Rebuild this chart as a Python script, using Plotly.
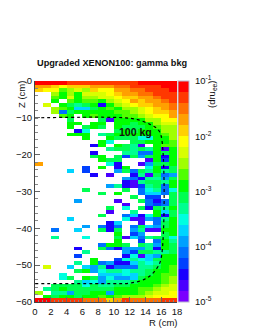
import plotly.graph_objects as go

N = None
# colour band (0..19, 0.2 decade each, starting at 1e-5) per row, column = R bin (cm)
z_levels = [
 [19,19,19,19,18,18,18,18,18,18,18,18,18,19,19,19,19,19],
 [16,16,15,14,15,15,15,16,16,16,17,17,18,18,18,18,19,19],
 [15,14,14,11,12,13,12,15,14,14,16,16,17,17,18,18,18,19],
 [N,N,12,10,12,10,13,13,13,14,15,16,16,17,17,18,18,18],
 [N,N,11,10,13,10,12,12,13,13,14,15,15,16,16,17,18,18],
 [N,N,10,N,11,10,11,11,10,12,13,14,16,15,16,16,17,18],
 [N,13,N,10,9,8,9,10,2,10,12,13,14,15,15,16,16,17],
 [N,N,12,11,10,6,6,9,10,11,10,12,12,13,14,15,16,17],
 [N,N,12,4,9,10,10,10,10,10,11,11,12,13,14,15,15,16],
 [N,N,N,11,10,N,10,11,10,10,10,11,11,12,13,14,14,16],
 [N,N,N,N,9,N,N,N,9,1,10,10,10,10,12,12,14,14],
 [N,N,N,N,10,10,N,10,10,N,10,10,9,10,10,12,13,13],
 [N,N,N,N,10,N,9,10,9,N,10,9,9,9,10,11,12,12],
 [N,N,N,N,N,2,7,N,N,N,9,10,9,10,10,10,12,12],
 [N,N,N,N,10,10,10,N,8,9,10,10,10,10,10,10,11,12],
 [N,N,N,N,N,N,10,N,N,10,9,9,9,7,7,10,10,12],
 [N,N,N,N,N,N,N,N,10,7,N,N,9,9,10,10,10,11],
 [N,N,N,N,N,N,N,2,10,N,10,9,8,1,N,10,11,11],
 [N,N,N,N,N,N,N,N,N,8,9,9,8,9,8,10,1,10],
 [N,N,N,N,N,N,N,2,N,N,N,8,8,4,4,10,9,10],
 [N,N,N,N,N,N,N,9,10,N,9,3,9,5,9,10,2,10],
 [N,N,N,N,N,N,N,N,10,9,9,N,N,N,1,10,3,10],
 [16,N,N,N,N,N,N,N,N,7,2,N,N,1,5,9,9,10],
 [N,N,N,N,N,N,3,N,10,N,2,10,N,N,7,10,2,9],
 [N,N,N,N,6,N,3,N,N,N,5,9,4,9,8,10,8,9],
 [N,N,N,N,N,N,N,2,N,1,N,N,2,8,1,9,4,5],
 [N,N,N,N,N,N,N,N,N,N,N,5,4,2,8,8,5,9],
 [N,N,N,N,N,N,N,N,N,N,N,2,1,8,9,9,8,10],
 [N,N,N,N,N,N,N,N,N,5,8,2,1,3,8,9,4,10],
 [N,N,N,N,N,N,9,N,N,N,N,9,N,4,7,8,4,7],
 [N,N,N,N,N,N,N,N,9,N,10,N,N,4,6,6,4,9],
 [N,N,N,N,N,N,N,N,N,N,N,N,9,N,3,3,N,9],
 [N,N,N,N,N,5,N,N,N,N,1,N,N,9,4,2,4,9],
 [N,N,N,N,N,N,N,N,N,N,N,1,N,N,4,3,4,9],
 [N,N,N,N,N,N,N,N,N,9,N,7,N,9,2,9,8,10],
 [N,N,N,N,N,N,N,N,N,1,N,N,8,N,N,10,6,9],
 [N,N,N,N,N,N,N,N,9,N,N,4,6,2,7,10,2,9],
 [N,N,N,N,6,N,N,N,N,N,N,7,1,1,5,4,8,10],
 [N,N,N,N,N,N,N,N,N,2,6,N,N,1,N,4,9,10],
 [N,N,N,N,N,N,5,N,4,2,4,N,4,9,6,5,9,10],
 [N,N,4,N,N,6,N,N,9,2,9,N,5,8,1,1,10,10],
 [N,N,N,N,N,N,N,N,N,N,10,N,3,5,N,N,9,10],
 [N,N,8,N,N,N,7,N,N,N,9,1,6,4,8,9,9,7],
 [N,N,N,N,N,N,N,N,N,N,10,N,N,3,N,4,10,8],
 [N,N,N,N,N,N,N,N,4,10,10,9,N,9,8,5,10,9],
 [N,N,N,N,N,2,N,N,9,4,2,5,5,5,8,2,10,9],
 [N,N,N,N,N,N,8,N,N,N,N,5,3,9,9,8,8,9],
 [N,N,N,N,N,3,N,N,N,N,N,2,7,1,6,5,10,10],
 [N,N,N,N,N,N,N,10,N,N,3,7,8,7,6,9,10,10],
 [N,N,N,N,N,8,N,10,4,5,2,2,6,8,7,8,10,10],
 [N,13,N,N,6,N,6,5,8,2,4,4,4,8,8,9,10,11],
 [N,N,N,N,N,9,10,5,7,8,8,7,8,8,9,10,10,11],
 [N,N,N,7,N,N,N,N,6,6,6,7,6,8,9,10,11,11],
 [N,N,N,7,9,N,10,9,5,7,5,5,6,9,10,10,11,12],
 [N,N,N,N,N,8,6,7,5,8,8,8,9,10,10,10,11,12],
 [N,N,9,9,9,9,7,9,8,8,9,9,10,10,10,11,12,13],
 [N,8,9,10,9,9,9,9,9,9,10,10,10,11,11,12,13,13],
 [12,N,8,8,5,9,9,10,10,5,10,10,10,11,12,13,13,14],
 [N,10,9,10,10,9,10,10,11,10,11,12,12,12,13,14,14,14],
 [19,19,18,18,18,18,17,17,17,15,16,18,17,17,17,17,18,18],
]
r_centers = [i + 0.5 for i in range(18)]
z_centers = [-(i + 0.5) for i in range(60)]

band_colors = ["#7a00ff","#4a00ff","#1a00ff","#0040ff","#0070ff","#00a0ff","#00d4ff","#00ffe0",
               "#00ff90","#00ff50","#00ff00","#50ff00","#a0ff00","#d8ff00","#ffff00","#ffd000",
               "#ffa000","#ff7000","#ff3800","#ff0000"]

cut_r = [0,11.5,13,14.5,15.5,16,16,15.4,14.1,12,10,0]
cut_z = [-10,-10,-10.5,-11.7,-13,-15,-48,-51,-53.6,-54.9,-55,-55]

cbar_major = [1e-5,1e-4,1e-3,1e-2,1e-1]
cbar_labels = ["10<sup>-5</sup>","10<sup>-4</sup>","10<sup>-3</sup>","10<sup>-2</sup>","10<sup>-1</sup>"]
cbar_minor = [m * k for m in cbar_major[:-1] for k in range(2, 10)]
x_ticks = list(range(0,19,2))
y_major = list(range(0,-61,-10))

z_log = [[None if v is None else -5 + (v + 0.5) * 0.2 for v in row] for row in z_levels]
n = len(band_colors)
scale = []
for i, c in enumerate(band_colors):
    scale += [[i / n, c], [(i + 1) / n, c]]

FONT = "Liberation Sans"
PW = 220.0; PH = 221.0
def px(x): return (x - 35) / PW
def py(y): return (302 - y) / PH

fig = go.Figure()
fig.add_trace(go.Heatmap(x=r_centers, y=z_centers, z=z_log, zmin=-5, zmax=-1, colorscale=scale,
    hoverongaps=False, xaxis="x", yaxis="y",
    colorbar=dict(thicknessmode="pixels", thickness=11, lenmode="fraction", len=1, y=0, yanchor="bottom",
                  x=px(178), xanchor="left", xpad=0, ypad=0, xref="paper", yref="paper",
                  outlinecolor="#b8b8d0", outlinewidth=1, ticks="", showticklabels=False)))
fig.add_trace(go.Scatter(x=cut_r, y=cut_z, mode="lines", line=dict(color="black", width=1.2, dash="dot"),
                         line_shape="spline", showlegend=False))
fig.add_trace(go.Scatter(x=[None], y=[None], yaxis="y2", mode="markers", showlegend=False, hoverinfo="skip"))
fig.update_layout(width=255, height=330, autosize=False, margin=dict(l=35, r=0, t=81, b=28, pad=0),
    paper_bgcolor="white", plot_bgcolor="white", showlegend=False,
    font=dict(family=FONT, size=9.5, color="#111"),
    title=dict(text="<b>Upgraded XENON100: gamma bkg</b>", x=37/255, xanchor="left", y=1-63/330, yanchor="middle",
               font=dict(family=FONT, size=9.2, color="#111")),
    xaxis=dict(range=[0,18], domain=[0, px(177)], tickmode="array", tickvals=x_ticks, ticks="inside", ticklen=5, tickcolor="#666",
               showgrid=False, zeroline=False, showline=True, linecolor="#444", linewidth=1,
               minor=dict(dtick=0.5, ticks="inside", ticklen=2, tickcolor="#888"),
               tickfont=dict(size=9.5), ticklabelstandoff=1, automargin=False),
    yaxis=dict(range=[-60,0], tickmode="array", tickvals=y_major, ticks="inside", ticklen=5, tickcolor="#666",
               showgrid=False, zeroline=False, showline=True, linecolor="#444", linewidth=1,
               minor=dict(dtick=2, tick0=0, ticks="inside", ticklen=3, tickcolor="#888"),
               tickfont=dict(size=9.5), automargin=False),
    yaxis2=dict(type="log", range=[-5,-1], overlaying="y", anchor="free", position=px(189), side="right",
                tickmode="array", tickvals=cbar_major, ticktext=cbar_labels, ticks="inside", ticklen=5, tickcolor="#333",
                showgrid=False, zeroline=False, showline=False,
                minor=dict(tickmode="array", tickvals=cbar_minor, ticks="inside", ticklen=3, tickcolor="#333"),
                tickfont=dict(size=9.5), ticklabelstandoff=5, automargin=False),
    annotations=[
        dict(text="<b>100 kg</b>", x=px(135), y=py(132), xref="paper", yref="paper", showarrow=False, yanchor="middle", xanchor="center", font=dict(size=10.5, color="#111")),
        dict(text="R (cm)", x=px(163.5), y=py(322), xref="paper", yref="paper", showarrow=False, yanchor="middle", xanchor="center", font=dict(size=9.5)),
        dict(text="Z (cm)", x=px(21), y=py(95), xref="paper", yref="paper", showarrow=False, yanchor="middle", xanchor="center", textangle=-90, font=dict(size=9.5)),
        dict(text="(dru<sub>ee</sub>)", x=px(212), y=py(95), xref="paper", yref="paper", showarrow=False, yanchor="middle", xanchor="center", textangle=-90, font=dict(size=9.5)),
    ])
fig.write_html("out.html", config={"displayModeBar": False}, post_script="document.body.style.margin='0';")
